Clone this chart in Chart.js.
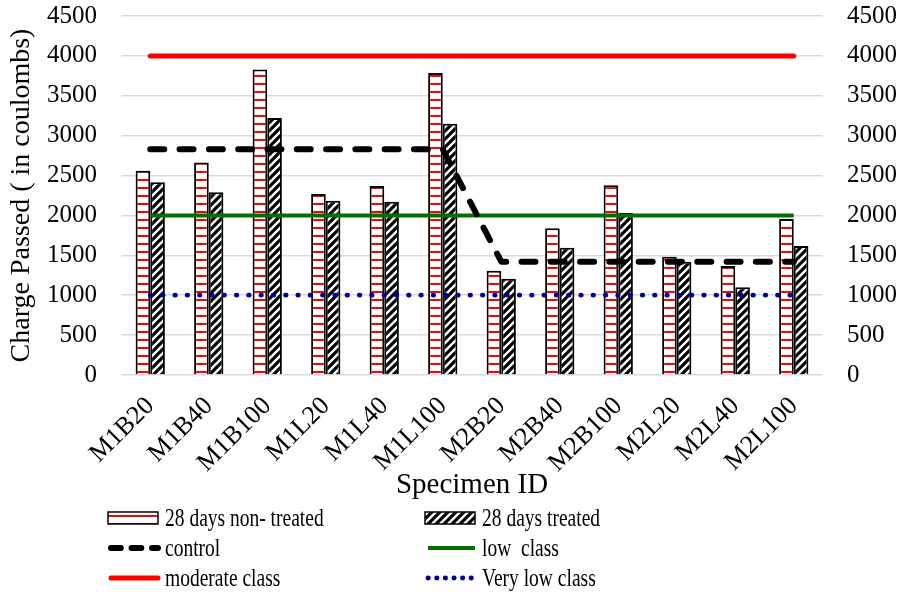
<!DOCTYPE html>
<html>
<head>
<meta charset="utf-8">
<title>Charge passed</title>
<script src="https://cdn.jsdelivr.net/npm/chart.js@4.4.1/dist/chart.umd.min.js"></script>
<style>
    html, body { margin: 0; padding: 0; background: #fff; }
    #wrap { width: 906px; height: 593px; }
</style>
</head>
<body>
<div id="wrap"><canvas id="chargeChart" width="906" height="593"></canvas></div>
<script>
const specimens = ["M1B20", "M1B40", "M1B100", "M1L20", "M1L40", "M1L100",
                   "M2B20", "M2B40", "M2B100", "M2L20", "M2L40", "M2L100"];
const nonTreated28 = [2560, 2665, 3830, 2268, 2368, 3785, 1307, 1838, 2377, 1483, 1366, 1955];
const treated28 = [2415, 2290, 3220, 2185, 2172, 3150, 1207, 1595, 2030, 1420, 1099, 1617];
const control = [2830, 2830, 2830, 2830, 2830, 2830, 1420, 1420, 1420, 1420, 1420, 1420];
const lowClass = [2000, 2000, 2000, 2000, 2000, 2000, 2000, 2000, 2000, 2000, 2000, 2000];
const moderateClass = [4000, 4000, 4000, 4000, 4000, 4000, 4000, 4000, 4000, 4000, 4000, 4000];
const veryLowClass = [1000, 1000, 1000, 1000, 1000, 1000, 1000, 1000, 1000, 1000, 1000, 1000];
const yMax = 4500;
const yStep = 500;

const FONT = "'Liberation Serif', 'Times New Roman', serif";

document.addEventListener("DOMContentLoaded", () => {
    const ctx = document.getElementById("chargeChart").getContext("2d");

    // red horizontal stripes on white
    const tileA = document.createElement("canvas");
    tileA.width = 8; tileA.height = 8;
    const ga = tileA.getContext("2d");
    ga.fillStyle = "#fff"; ga.fillRect(0, 0, 8, 8);
    ga.fillStyle = "#ff0000"; ga.fillRect(0, 3, 8, 2);
    const redStripes = ctx.createPattern(tileA, "repeat");

    // black "/" diagonals on white
    const tileB = document.createElement("canvas");
    tileB.width = 8; tileB.height = 8;
    const gb = tileB.getContext("2d");
    gb.fillStyle = "#fff"; gb.fillRect(0, 0, 8, 8);
    gb.strokeStyle = "#000"; gb.lineWidth = 3.2;
    gb.beginPath();
    gb.moveTo(0, 8); gb.lineTo(8, 0);
    gb.moveTo(-2, 2); gb.lineTo(2, -2);
    gb.moveTo(6, 10); gb.lineTo(10, 6);
    gb.stroke();
    const blackDiagonals = ctx.createPattern(tileB, "repeat");

    const twoColumnLegend = {
        id: "twoColumnLegend",
        afterDraw(chart) {
            const c = chart.ctx;
            const cols = [108, 425];
            const rows = [518, 548, 578];
            chart.data.datasets.forEach((ds, i) => {
                const x = cols[i % 2];
                const y = rows[Math.floor(i / 2)];
                c.save();
                if (ds.type === "line") {
                    c.strokeStyle = ds.borderColor;
                    c.lineWidth = ds.borderWidth;
                    c.lineCap = ds.borderCapStyle || "butt";
                    c.setLineDash((ds.borderDash || []).map(v => v * 0.7));
                    c.beginPath();
                    c.moveTo(x + 3, y);
                    c.lineTo(x + 50, y);
                    c.stroke();
                } else {
                    c.fillStyle = ds.backgroundColor;
                    c.fillRect(x, y - 6, 50, 12);
                    c.strokeStyle = "#000";
                    c.lineWidth = 1.5;
                    c.strokeRect(x, y - 6, 50, 12);
                }
                c.restore();

                c.save();
                c.font = "25px " + FONT;
                c.fillStyle = "#000";
                c.textBaseline = "middle";
                c.translate(x + 57, y + 1);
                c.scale(0.78, 1);
                c.fillText(ds.label, 0, 0);
                c.restore();
            });
        }
    };

    const plainNumber = v => v.toString();

    new Chart(ctx, {
        type: "bar",
        data: {
            labels: specimens,
            datasets: [
                {
                    label: "28 days non- treated",
                    data: nonTreated28,
                    backgroundColor: redStripes,
                    borderColor: "#000",
                    borderWidth: 2,
                    order: 2
                },
                {
                    label: "28 days treated",
                    data: treated28,
                    backgroundColor: blackDiagonals,
                    borderColor: "#000",
                    borderWidth: 2,
                    order: 2
                },
                {
                    type: "line",
                    label: "control",
                    data: control,
                    borderColor: "#000",
                    borderWidth: 6,
                    borderDash: [14, 15.3],
                    borderCapStyle: "round",
                    borderJoinStyle: "round",
                    pointRadius: 0,
                    fill: false,
                    order: 1
                },
                {
                    type: "line",
                    label: "low  class",
                    data: lowClass,
                    borderColor: "#007000",
                    borderWidth: 4,
                    pointRadius: 0,
                    fill: false,
                    order: 1
                },
                {
                    type: "line",
                    label: "moderate class",
                    data: moderateClass,
                    borderColor: "#ff0000",
                    borderWidth: 5,
                    borderCapStyle: "round",
                    pointRadius: 0,
                    fill: false,
                    order: 1
                },
                {
                    type: "line",
                    label: "Very low class",
                    data: veryLowClass,
                    borderColor: "#000099",
                    borderWidth: 4.8,
                    borderDash: [0.5, 11.8],
                    borderCapStyle: "round",
                    pointRadius: 0,
                    fill: false,
                    order: 1
                }
            ]
        },
        options: {
            responsive: false,
            animation: false,
            events: [],
            layout: {
                padding: { top: 16, left: 0, right: 0, bottom: 88 }
            },
            datasets: {
                bar: { categoryPercentage: 0.5, barPercentage: 1.0 }
            },
            plugins: {
                legend: { display: false },
                tooltip: { enabled: false }
            },
            scales: {
                x: {
                    grid: { display: false },
                    border: { display: false },
                    ticks: {
                        color: "#000",
                        font: { family: FONT, size: 26 },
                        maxRotation: 45,
                        minRotation: 45,
                        padding: 8
                    },
                    title: {
                        display: true,
                        text: "Specimen ID",
                        color: "#000",
                        font: { family: FONT, size: 29 },
                        padding: { top: 0, bottom: 2 }
                    },
                    afterFit(scale) { scale.height = 130; }
                },
                y: {
                    position: "left",
                    min: 0,
                    max: yMax,
                    grid: { color: "#d9d9d9", lineWidth: 1.5, drawTicks: false },
                    border: { display: false },
                    ticks: {
                        stepSize: yStep,
                        color: "#000",
                        font: { family: FONT, size: 25 },
                        padding: 24,
                        callback: plainNumber
                    },
                    title: {
                        display: true,
                        text: "Charge Passed ( in coulombs)",
                        color: "#000",
                        font: { family: FONT, size: 28 },
                        padding: { top: 5, bottom: 0 }
                    },
                    afterFit(scale) {
                        scale.width = 121;
                        scale.paddingTop = 0;
                        scale.paddingBottom = 0;
                    }
                },
                y1: {
                    position: "right",
                    min: 0,
                    max: yMax,
                    grid: { drawOnChartArea: false, drawTicks: false },
                    border: { display: false },
                    ticks: {
                        stepSize: yStep,
                        color: "#000",
                        font: { family: FONT, size: 25 },
                        padding: 24,
                        callback: plainNumber
                    },
                    afterFit(scale) {
                        scale.width = 83;
                        scale.paddingTop = 0;
                        scale.paddingBottom = 0;
                    }
                }
            }
        },
        plugins: [twoColumnLegend]
    });
});
</script>
</body>
</html>
